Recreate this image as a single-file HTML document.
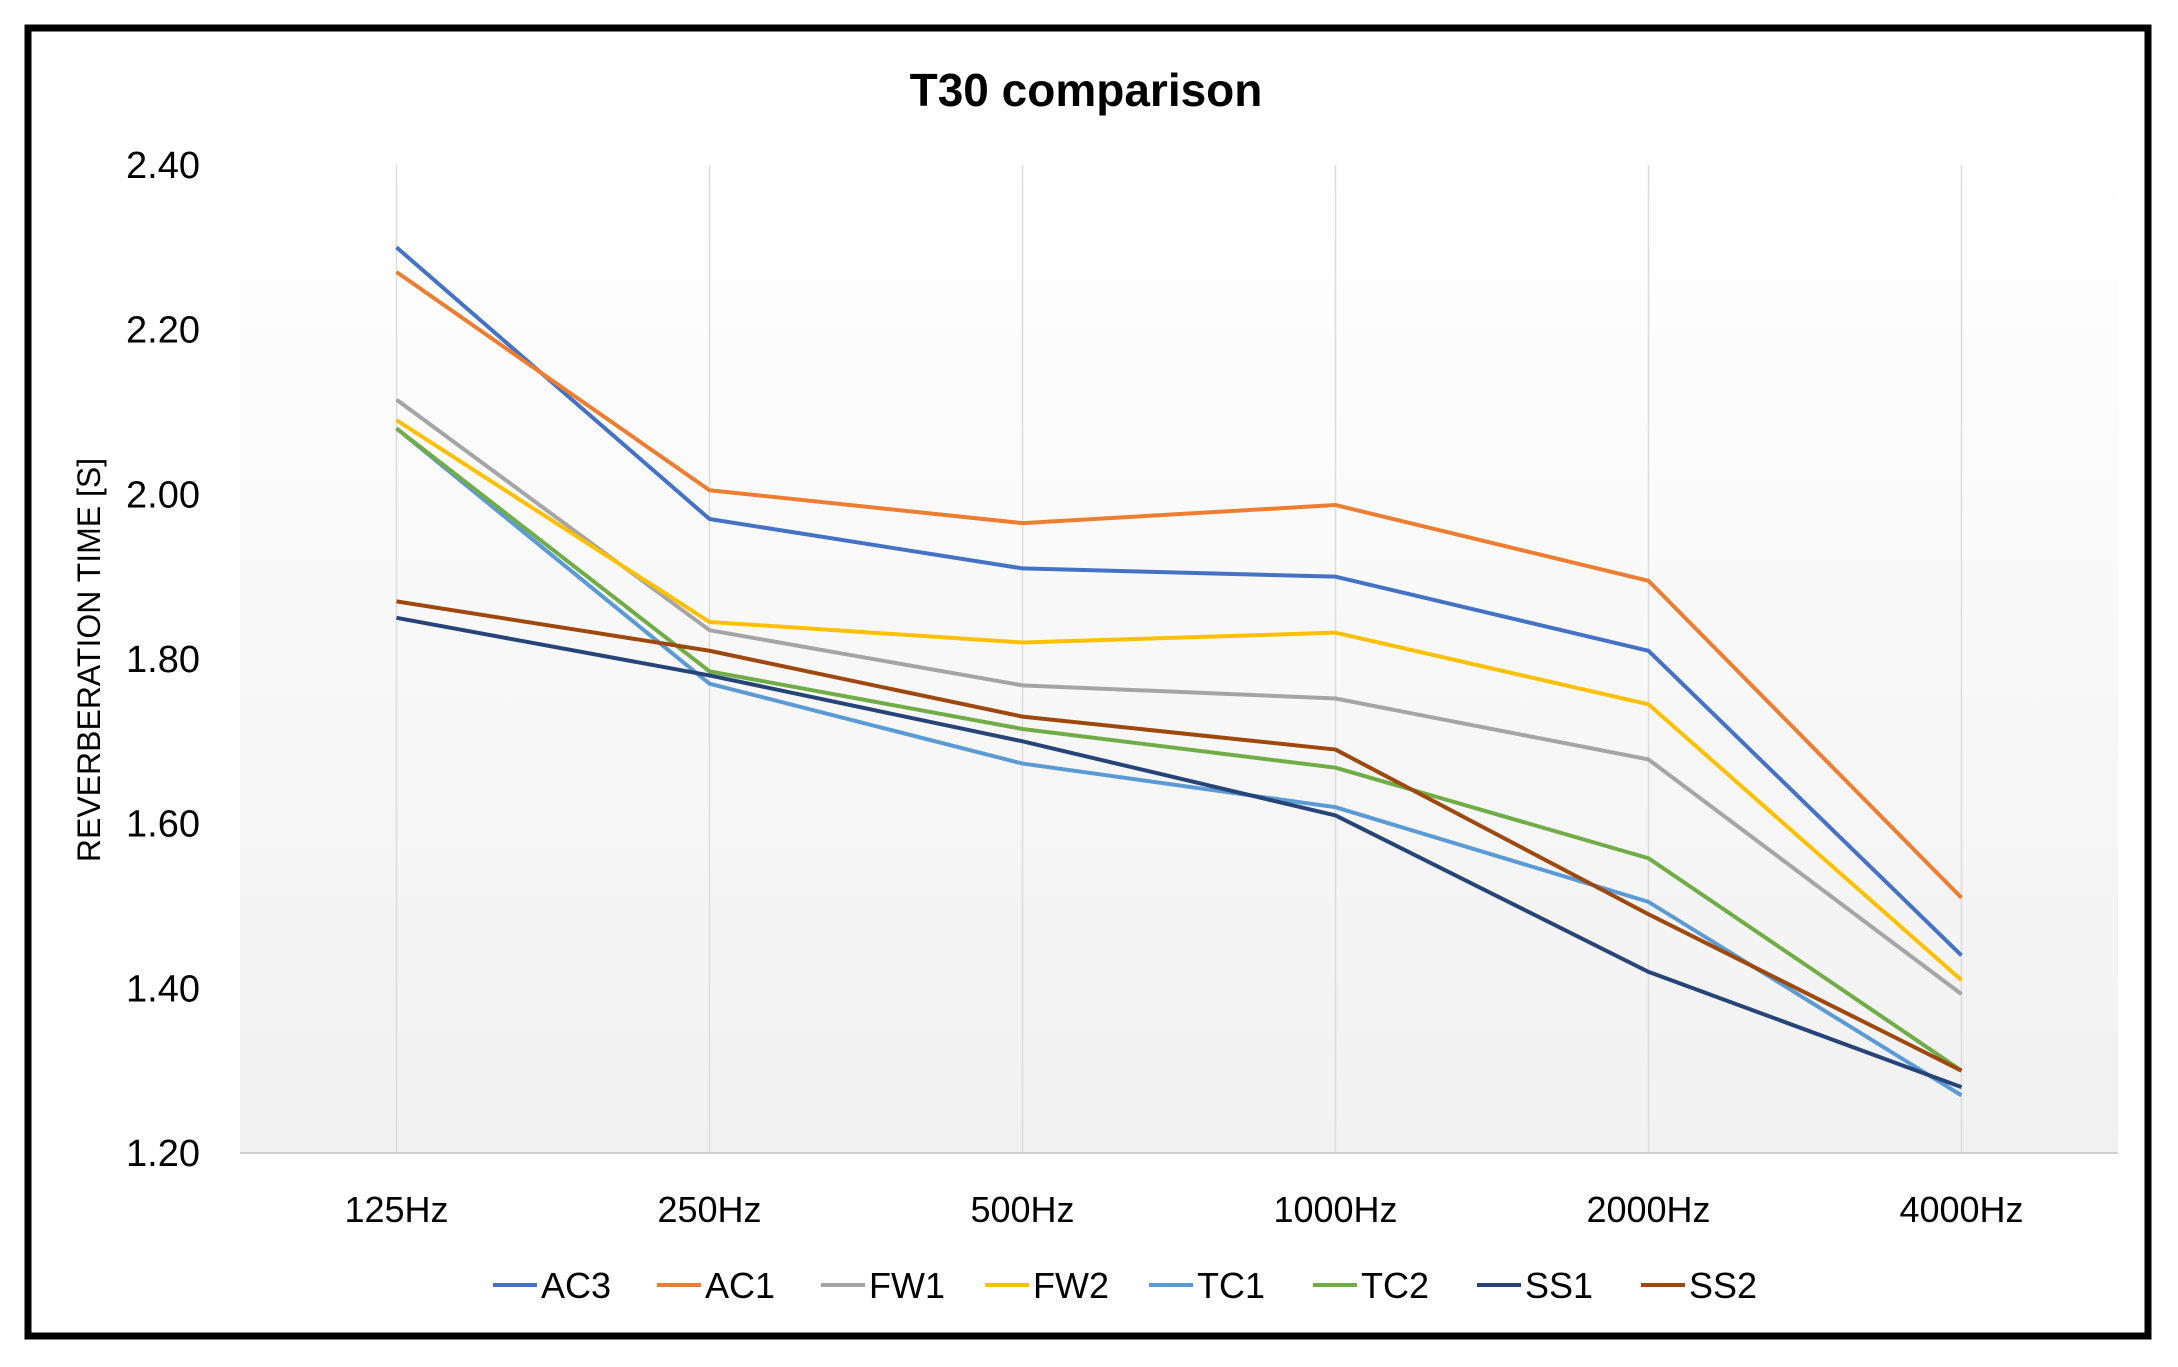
<!DOCTYPE html>
<html><head><meta charset="utf-8"><style>
body{margin:0;background:#fff;}
svg{display:block;font-family:"Liberation Sans",sans-serif;}
</style></head><body>
<svg id="chart" width="2178" height="1367" viewBox="0 0 2178 1367">
<defs><linearGradient id="bg" x1="0" y1="0" x2="0" y2="1"><stop offset="0" stop-color="#ffffff"/><stop offset="1" stop-color="#f1f1f1"/></linearGradient></defs>
<rect x="28" y="28" width="2120" height="1308" fill="#fff" stroke="#000" stroke-width="7"/>
<rect x="240" y="165" width="1878" height="988" fill="url(#bg)"/>
<text x="1086" y="106" text-anchor="middle" font-size="46" font-weight="bold">T30 comparison</text>
<text transform="translate(100,660) rotate(-90)" text-anchor="middle" font-size="32">REVERBERATION TIME [S]</text>
<g id="grid"></g><g id="yt"></g><g id="xt"></g><g id="series"></g><g id="legend"></g>
</svg>
<script>
const categories=["125Hz","250Hz","500Hz","1000Hz","2000Hz","4000Hz"];
const yTicks=[1.20,1.40,1.60,1.80,2.00,2.20,2.40];
const seriesNames=["AC3","AC1","FW1","FW2","TC1","TC2","SS1","SS2"];
const seriesColors=["#4472C4","#ED7D31","#A5A5A5","#FFC000","#5B9BD5","#70AD47","#264478","#9E480E"];
const AC3=[2.30,1.97,1.91,1.90,1.81,1.44];
const AC1=[2.27,2.005,1.965,1.987,1.895,1.51];
const FW1=[2.115,1.835,1.768,1.752,1.678,1.393];
const FW2=[2.09,1.845,1.82,1.832,1.745,1.41];
const TC1=[2.08,1.77,1.673,1.62,1.505,1.27];
const TC2=[2.08,1.785,1.715,1.668,1.558,1.30];
const SS1=[1.85,1.78,1.70,1.61,1.42,1.28];
const SS2=[1.87,1.81,1.73,1.69,1.49,1.30];
const seriesValues=[AC3,AC1,FW1,FW2,TC1,TC2,SS1,SS2];
const NS="http://www.w3.org/2000/svg";
const L=240,R=2118,T=165,B=1153,ymin=1.2,ymax=2.4;
const step=(R-L)/categories.length;
function x(i){return L+step*(i+0.5);}
function y(v){return B-(v-ymin)/(ymax-ymin)*(B-T);}
function mk(tag,attrs,parent){const e=document.createElementNS(NS,tag);for(const k in attrs)e.setAttribute(k,attrs[k]);document.getElementById(parent).appendChild(e);return e;}
categories.forEach((c,i)=>{
 const g=mk('line',{x1:x(i),x2:x(i),y1:T,y2:B,stroke:'#dcdcdc','stroke-width':1.5},'grid');
 
 
 const t=mk('text',{x:x(i),y:1222,'text-anchor':'middle','font-size':36},'xt');
 t.textContent=c;
 
 
});
const ax=mk('line',{x1:L,x2:R,y1:B,y2:B,stroke:'#d0d0d0','stroke-width':2},'grid');


yTicks.forEach(v=>{
 const t=mk('text',{x:200,y:y(v)+13,'text-anchor':'end','font-size':38},'yt');
 t.textContent=v.toFixed(2);
 
 
});
seriesValues.forEach((vals,s)=>{
 const p=mk('polyline',{points:vals.map((v,i)=>x(i)+','+y(v)).join(' '),fill:'none',stroke:seriesColors[s],'stroke-width':4,'stroke-linejoin':'round'},'series');
 
 
 const lx=493+s*164;
 const ll=mk('line',{x1:lx,x2:lx+44,y1:1285,y2:1285,stroke:seriesColors[s],'stroke-width':4},'legend');
 
 
 const lt=mk('text',{x:lx+48,y:1298,'font-size':36},'legend');
 lt.textContent=seriesNames[s];
 
 
});
</script>
</body></html>
